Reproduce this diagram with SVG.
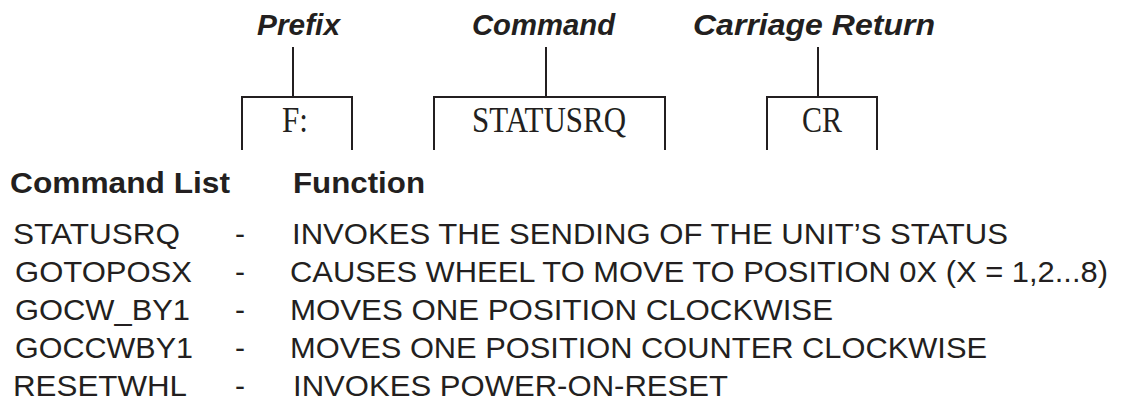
<svg xmlns="http://www.w3.org/2000/svg" width="1144" height="404" viewBox="0 0 1144 404">
  <style>
    .hdr { font-family: "Liberation Sans", Arial, sans-serif; font-weight: bold; font-style: italic; font-size: 29.5px; fill: #231f20; }
    .box { fill: none; stroke: #231f20; stroke-width: 2; }
    .boxt { font-family: "Liberation Serif", "Times New Roman", serif; font-size: 35px; fill: #231f20; }
    .th { font-family: "Liberation Sans", Arial, sans-serif; font-weight: bold; font-size: 29px; fill: #231f20; }
    .tl { font-family: "Liberation Sans", Arial, sans-serif; font-size: 30px; fill: #231f20; }
    .conn { stroke: #231f20; stroke-width: 2; fill: none; }
  </style>
  <rect width="1144" height="404" fill="#ffffff"/>

  <g id="label-prefix">
    <text class="hdr" x="257" y="35" textLength="83" lengthAdjust="spacingAndGlyphs">Prefix</text>
  </g>
  <g id="label-command">
    <text class="hdr" x="472" y="35" textLength="143" lengthAdjust="spacingAndGlyphs">Command</text>
  </g>
  <g id="label-cr">
    <text class="hdr" x="693" y="35" textLength="242" lengthAdjust="spacingAndGlyphs">Carriage Return</text>
  </g>

  <g id="connectors">
    <line class="conn" x1="293" y1="47" x2="293" y2="97"/>
    <line class="conn" x1="546" y1="47" x2="546" y2="97"/>
    <line class="conn" x1="818" y1="47" x2="818" y2="97"/>
  </g>

  <g id="box-prefix">
    <polyline class="box" points="242,150 242,97 352,97 352,150"/>
    <text class="boxt" x="282" y="132" textLength="26" lengthAdjust="spacingAndGlyphs">F:</text>
  </g>
  <g id="box-command">
    <polyline class="box" points="434,150 434,97 665,97 665,150"/>
    <text class="boxt" x="472" y="132" textLength="154" lengthAdjust="spacingAndGlyphs">STATUSRQ</text>
  </g>
  <g id="box-cr">
    <polyline class="box" points="767,150 767,97 877,97 877,150"/>
    <text class="boxt" x="802" y="132" textLength="40" lengthAdjust="spacingAndGlyphs">CR</text>
  </g>

  <g id="table">
    <text class="th" x="10" y="193" textLength="220" lengthAdjust="spacingAndGlyphs">Command List</text>
    <text class="th" x="293" y="193" textLength="132" lengthAdjust="spacingAndGlyphs">Function</text>

    <text class="tl" x="13" y="244" textLength="167" lengthAdjust="spacingAndGlyphs">STATUSRQ</text>
    <text class="tl" x="240" y="244" text-anchor="middle">-</text>
    <text class="tl" x="292" y="244" textLength="716" lengthAdjust="spacingAndGlyphs">INVOKES THE SENDING OF THE UNIT’S STATUS</text>

    <text class="tl" x="15" y="282" textLength="177" lengthAdjust="spacingAndGlyphs">GOTOPOSX</text>
    <text class="tl" x="240" y="282" text-anchor="middle">-</text>
    <text class="tl" x="290" y="282" textLength="818" lengthAdjust="spacingAndGlyphs">CAUSES WHEEL TO MOVE TO POSITION 0X (X = 1,2...8)</text>

    <text class="tl" x="15" y="320" textLength="175" lengthAdjust="spacingAndGlyphs">GOCW_BY1</text>
    <text class="tl" x="240" y="320" text-anchor="middle">-</text>
    <text class="tl" x="290" y="320" textLength="543" lengthAdjust="spacingAndGlyphs">MOVES ONE POSITION CLOCKWISE</text>

    <text class="tl" x="15" y="358" textLength="178" lengthAdjust="spacingAndGlyphs">GOCCWBY1</text>
    <text class="tl" x="240" y="358" text-anchor="middle">-</text>
    <text class="tl" x="290" y="358" textLength="697" lengthAdjust="spacingAndGlyphs">MOVES ONE POSITION COUNTER CLOCKWISE</text>

    <text class="tl" x="13" y="396" textLength="174" lengthAdjust="spacingAndGlyphs">RESETWHL</text>
    <text class="tl" x="240" y="396" text-anchor="middle">-</text>
    <text class="tl" x="293" y="396" textLength="435" lengthAdjust="spacingAndGlyphs">INVOKES POWER-ON-RESET</text>
  </g>
</svg>
